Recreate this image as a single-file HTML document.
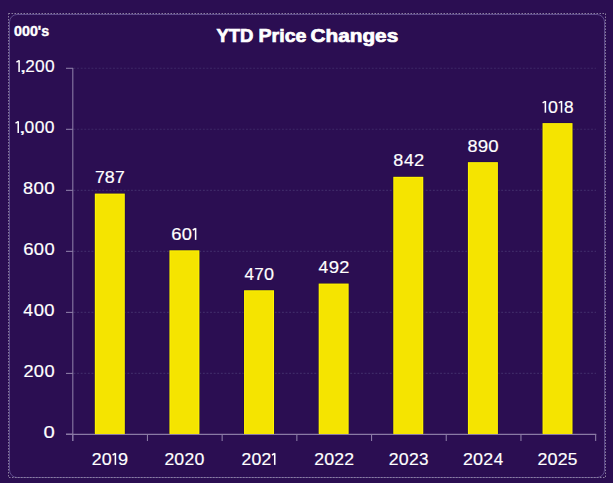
<!DOCTYPE html>
<html><head><meta charset="utf-8"><style>
html,body{margin:0;padding:0;background:#2b0e52;width:613px;height:483px;overflow:hidden}
svg{display:block}
text{font-family:"Liberation Sans",sans-serif;fill:#ffffff}
.lbl{font-size:17px;stroke:#fff;stroke-width:0.18px}
.title{font-size:18.4px;font-weight:bold;stroke:#fff;stroke-width:0.7px}
.unit{font-size:13.8px;font-weight:bold;stroke:#fff;stroke-width:0.4px}
</style></head><body>
<svg width="613" height="483" viewBox="0 0 613 483">
<rect x="0" y="0" width="613" height="483" fill="#2b0e52"/>
<rect x="9.5" y="14.5" width="595" height="463" rx="7.5" ry="7.5" fill="none" stroke="#5e4a8c" stroke-width="1"/>
<rect x="8.5" y="13.5" width="597" height="464" fill="none" stroke="#8a7e9e" stroke-width="1" stroke-dasharray="1.5 1.5"/>
<text x="216.43" y="42.10" class="title" textLength="37.10" lengthAdjust="spacingAndGlyphs">YTD</text><text x="258.54" y="42.10" class="title" textLength="47.98" lengthAdjust="spacingAndGlyphs">Price</text><text x="310.60" y="42.10" class="title" textLength="87.60" lengthAdjust="spacingAndGlyphs">Changes</text>
<text x="14.04" y="35.50" class="unit" textLength="35.15" lengthAdjust="spacingAndGlyphs">000's</text>
<line x1="73.5" y1="373.42" x2="596" y2="373.42" stroke="#3e2967" stroke-width="1.1" stroke-dasharray="1.9 1.694"/>
<line x1="73.5" y1="312.40" x2="596" y2="312.40" stroke="#3e2967" stroke-width="1.1" stroke-dasharray="1.9 1.694"/>
<line x1="73.5" y1="251.37" x2="596" y2="251.37" stroke="#3e2967" stroke-width="1.1" stroke-dasharray="1.9 1.694"/>
<line x1="73.5" y1="190.35" x2="596" y2="190.35" stroke="#3e2967" stroke-width="1.1" stroke-dasharray="1.9 1.694"/>
<line x1="73.5" y1="129.32" x2="596" y2="129.32" stroke="#3e2967" stroke-width="1.1" stroke-dasharray="1.9 1.694"/>
<line x1="73.5" y1="68.30" x2="596" y2="68.30" stroke="#3e2967" stroke-width="1.1" stroke-dasharray="1.9 1.694"/>
<line x1="66" y1="434.20" x2="73" y2="434.20" stroke="#8a7aa5" stroke-width="1.1"/>
<text x="43.51" y="438.20" class="lbl" textLength="11.29" lengthAdjust="spacingAndGlyphs">0</text>
<line x1="66" y1="373.42" x2="73" y2="373.42" stroke="#8a7aa5" stroke-width="1.1"/>
<text x="23.59" y="377.12" class="lbl" textLength="10.06" lengthAdjust="spacingAndGlyphs">2</text><text x="33.86" y="377.12" class="lbl" textLength="10.18" lengthAdjust="spacingAndGlyphs">0</text><text x="44.44" y="377.12" class="lbl" textLength="10.18" lengthAdjust="spacingAndGlyphs">0</text>
<line x1="66" y1="312.40" x2="73" y2="312.40" stroke="#8a7aa5" stroke-width="1.1"/>
<text x="23.30" y="316.10" class="lbl" textLength="9.75" lengthAdjust="spacingAndGlyphs">4</text><text x="33.66" y="316.10" class="lbl" textLength="10.28" lengthAdjust="spacingAndGlyphs">0</text><text x="44.34" y="316.10" class="lbl" textLength="10.28" lengthAdjust="spacingAndGlyphs">0</text>
<line x1="66" y1="251.37" x2="73" y2="251.37" stroke="#8a7aa5" stroke-width="1.1"/>
<text x="23.16" y="255.07" class="lbl" textLength="10.33" lengthAdjust="spacingAndGlyphs">6</text><text x="33.79" y="255.07" class="lbl" textLength="10.21" lengthAdjust="spacingAndGlyphs">0</text><text x="44.41" y="255.07" class="lbl" textLength="10.21" lengthAdjust="spacingAndGlyphs">0</text>
<line x1="66" y1="190.35" x2="73" y2="190.35" stroke="#8a7aa5" stroke-width="1.1"/>
<text x="22.91" y="194.05" class="lbl" textLength="10.15" lengthAdjust="spacingAndGlyphs">8</text><text x="33.41" y="194.05" class="lbl" textLength="10.45" lengthAdjust="spacingAndGlyphs">0</text><text x="44.28" y="194.05" class="lbl" textLength="10.45" lengthAdjust="spacingAndGlyphs">0</text>
<line x1="66" y1="129.32" x2="73" y2="129.32" stroke="#8a7aa5" stroke-width="1.1"/>
<path d="M18.22 133.02V121.32" stroke="#fff" stroke-width="1.55" fill="none"/><path d="M15.50 123.12L18.22 121.62" stroke="#fff" stroke-width="1.45" fill="none" stroke-linecap="butt"/><text x="18.73" y="133.02" class="lbl" textLength="7.16" lengthAdjust="spacingAndGlyphs">,</text><text x="24.64" y="133.02" class="lbl" textLength="9.73" lengthAdjust="spacingAndGlyphs">0</text><text x="34.75" y="133.02" class="lbl" textLength="9.73" lengthAdjust="spacingAndGlyphs">0</text><text x="44.86" y="133.02" class="lbl" textLength="9.73" lengthAdjust="spacingAndGlyphs">0</text>
<line x1="66" y1="68.30" x2="73" y2="68.30" stroke="#8a7aa5" stroke-width="1.1"/>
<path d="M19.10 72.00V60.30" stroke="#fff" stroke-width="1.55" fill="none"/><path d="M16.40 62.10L19.10 60.60" stroke="#fff" stroke-width="1.45" fill="none" stroke-linecap="butt"/><text x="19.60" y="72.00" class="lbl" textLength="7.10" lengthAdjust="spacingAndGlyphs">,</text><text x="25.28" y="72.00" class="lbl" textLength="9.53" lengthAdjust="spacingAndGlyphs">2</text><text x="35.00" y="72.00" class="lbl" textLength="9.65" lengthAdjust="spacingAndGlyphs">0</text><text x="45.03" y="72.00" class="lbl" textLength="9.65" lengthAdjust="spacingAndGlyphs">0</text>
<line x1="72.8" y1="68" x2="72.8" y2="441" stroke="#8a7aa5" stroke-width="1.1"/>
<line x1="66" y1="434.3" x2="596.2" y2="434.3" stroke="#8a7aa5" stroke-width="1.2"/>
<line x1="72.75" y1="434" x2="72.75" y2="441" stroke="#8a7aa5" stroke-width="1.1"/>
<line x1="147.45" y1="434" x2="147.45" y2="441" stroke="#8a7aa5" stroke-width="1.1"/>
<line x1="222.15" y1="434" x2="222.15" y2="441" stroke="#8a7aa5" stroke-width="1.1"/>
<line x1="296.85" y1="434" x2="296.85" y2="441" stroke="#8a7aa5" stroke-width="1.1"/>
<line x1="371.55" y1="434" x2="371.55" y2="441" stroke="#8a7aa5" stroke-width="1.1"/>
<line x1="446.25" y1="434" x2="446.25" y2="441" stroke="#8a7aa5" stroke-width="1.1"/>
<line x1="520.95" y1="434" x2="520.95" y2="441" stroke="#8a7aa5" stroke-width="1.1"/>
<line x1="595.65" y1="434" x2="595.65" y2="441" stroke="#8a7aa5" stroke-width="1.1"/>
<rect x="94.30" y="193.07" width="31" height="240.93" fill="#1f0846"/>
<rect x="94.80" y="193.57" width="30" height="240.43" fill="#fff500"/>
<rect x="95.80" y="194.57" width="28" height="239.43" fill="#f5e400"/>
<text x="94.90" y="183.17" class="lbl" textLength="9.79" lengthAdjust="spacingAndGlyphs">7</text><text x="104.87" y="183.17" class="lbl" textLength="9.97" lengthAdjust="spacingAndGlyphs">8</text><text x="115.00" y="183.17" class="lbl" textLength="9.79" lengthAdjust="spacingAndGlyphs">7</text>
<text x="91.81" y="464.90" class="lbl" textLength="9.83" lengthAdjust="spacingAndGlyphs">2</text><text x="101.84" y="464.90" class="lbl" textLength="9.95" lengthAdjust="spacingAndGlyphs">0</text><path d="M115.39 464.90V453.20" stroke="#fff" stroke-width="1.55" fill="none"/><path d="M112.58 455.00L115.39 453.50" stroke="#fff" stroke-width="1.45" fill="none" stroke-linecap="butt"/><text x="117.90" y="464.90" class="lbl" textLength="10.06" lengthAdjust="spacingAndGlyphs">9</text>
<rect x="168.92" y="249.80" width="31" height="184.20" fill="#1f0846"/>
<rect x="169.42" y="250.30" width="30" height="183.70" fill="#fff500"/>
<rect x="170.42" y="251.30" width="28" height="182.70" fill="#f5e400"/>
<text x="171.16" y="239.90" class="lbl" textLength="10.29" lengthAdjust="spacingAndGlyphs">6</text><text x="181.76" y="239.90" class="lbl" textLength="10.17" lengthAdjust="spacingAndGlyphs">0</text><path d="M195.62 239.90V228.20" stroke="#fff" stroke-width="1.55" fill="none"/><path d="M192.74 230.00L195.62 228.50" stroke="#fff" stroke-width="1.45" fill="none" stroke-linecap="butt"/>
<text x="164.42" y="464.90" class="lbl" textLength="9.76" lengthAdjust="spacingAndGlyphs">2</text><text x="174.38" y="464.90" class="lbl" textLength="9.88" lengthAdjust="spacingAndGlyphs">0</text><text x="184.46" y="464.90" class="lbl" textLength="9.76" lengthAdjust="spacingAndGlyphs">2</text><text x="194.42" y="464.90" class="lbl" textLength="9.88" lengthAdjust="spacingAndGlyphs">0</text>
<rect x="243.54" y="289.75" width="31" height="144.25" fill="#1f0846"/>
<rect x="244.04" y="290.25" width="30" height="143.75" fill="#fff500"/>
<rect x="245.04" y="291.25" width="28" height="142.75" fill="#f5e400"/>
<text x="244.41" y="279.85" class="lbl" textLength="9.49" lengthAdjust="spacingAndGlyphs">4</text><text x="254.32" y="279.85" class="lbl" textLength="9.54" lengthAdjust="spacingAndGlyphs">7</text><text x="264.10" y="279.85" class="lbl" textLength="10.01" lengthAdjust="spacingAndGlyphs">0</text>
<text x="241.62" y="464.90" class="lbl" textLength="9.74" lengthAdjust="spacingAndGlyphs">2</text><text x="251.56" y="464.90" class="lbl" textLength="9.86" lengthAdjust="spacingAndGlyphs">0</text><text x="261.62" y="464.90" class="lbl" textLength="9.74" lengthAdjust="spacingAndGlyphs">2</text><path d="M274.73 464.90V453.20" stroke="#fff" stroke-width="1.55" fill="none"/><path d="M271.95 455.00L274.73 453.50" stroke="#fff" stroke-width="1.45" fill="none" stroke-linecap="butt"/>
<rect x="318.16" y="283.04" width="31" height="150.96" fill="#1f0846"/>
<rect x="318.66" y="283.54" width="30" height="150.46" fill="#fff500"/>
<rect x="319.66" y="284.54" width="28" height="149.46" fill="#f5e400"/>
<text x="318.60" y="273.14" class="lbl" textLength="9.72" lengthAdjust="spacingAndGlyphs">4</text><text x="328.78" y="273.14" class="lbl" textLength="10.36" lengthAdjust="spacingAndGlyphs">9</text><text x="339.19" y="273.14" class="lbl" textLength="10.13" lengthAdjust="spacingAndGlyphs">2</text>
<text x="314.21" y="464.90" class="lbl" textLength="9.81" lengthAdjust="spacingAndGlyphs">2</text><text x="324.23" y="464.90" class="lbl" textLength="9.93" lengthAdjust="spacingAndGlyphs">0</text><text x="334.35" y="464.90" class="lbl" textLength="9.81" lengthAdjust="spacingAndGlyphs">2</text><text x="344.18" y="464.90" class="lbl" textLength="9.81" lengthAdjust="spacingAndGlyphs">2</text>
<rect x="392.78" y="176.29" width="31" height="257.71" fill="#1f0846"/>
<rect x="393.28" y="176.79" width="30" height="257.21" fill="#fff500"/>
<rect x="394.28" y="177.79" width="28" height="256.21" fill="#f5e400"/>
<text x="393.22" y="166.39" class="lbl" textLength="10.03" lengthAdjust="spacingAndGlyphs">8</text><text x="403.91" y="166.39" class="lbl" textLength="9.79" lengthAdjust="spacingAndGlyphs">4</text><text x="414.12" y="166.39" class="lbl" textLength="10.20" lengthAdjust="spacingAndGlyphs">2</text>
<text x="388.82" y="464.90" class="lbl" textLength="9.79" lengthAdjust="spacingAndGlyphs">2</text><text x="398.80" y="464.90" class="lbl" textLength="9.90" lengthAdjust="spacingAndGlyphs">0</text><text x="408.90" y="464.90" class="lbl" textLength="9.79" lengthAdjust="spacingAndGlyphs">2</text><text x="418.93" y="464.90" class="lbl" textLength="9.52" lengthAdjust="spacingAndGlyphs">3</text>
<rect x="467.40" y="161.65" width="31" height="272.35" fill="#1f0846"/>
<rect x="467.90" y="162.15" width="30" height="271.85" fill="#fff500"/>
<rect x="468.90" y="163.15" width="28" height="270.85" fill="#f5e400"/>
<text x="467.41" y="151.75" class="lbl" textLength="10.06" lengthAdjust="spacingAndGlyphs">8</text><text x="477.67" y="151.75" class="lbl" textLength="10.46" lengthAdjust="spacingAndGlyphs">9</text><text x="488.37" y="151.75" class="lbl" textLength="10.35" lengthAdjust="spacingAndGlyphs">0</text>
<text x="463.01" y="464.90" class="lbl" textLength="9.89" lengthAdjust="spacingAndGlyphs">2</text><text x="473.10" y="464.90" class="lbl" textLength="10.01" lengthAdjust="spacingAndGlyphs">0</text><text x="483.31" y="464.90" class="lbl" textLength="9.89" lengthAdjust="spacingAndGlyphs">2</text><text x="493.71" y="464.90" class="lbl" textLength="9.49" lengthAdjust="spacingAndGlyphs">4</text>
<rect x="542.02" y="122.61" width="31" height="311.39" fill="#1f0846"/>
<rect x="542.52" y="123.11" width="30" height="310.89" fill="#fff500"/>
<rect x="543.52" y="124.11" width="28" height="309.89" fill="#f5e400"/>
<path d="M545.39 112.71V101.01" stroke="#fff" stroke-width="1.55" fill="none"/><path d="M542.60 102.81L545.39 101.31" stroke="#fff" stroke-width="1.45" fill="none" stroke-linecap="butt"/><text x="548.04" y="112.71" class="lbl" textLength="9.91" lengthAdjust="spacingAndGlyphs">0</text><path d="M561.53 112.71V101.01" stroke="#fff" stroke-width="1.55" fill="none"/><path d="M558.74 102.81L561.53 101.31" stroke="#fff" stroke-width="1.45" fill="none" stroke-linecap="butt"/><text x="564.13" y="112.71" class="lbl" textLength="9.62" lengthAdjust="spacingAndGlyphs">8</text>
<text x="537.41" y="464.90" class="lbl" textLength="9.89" lengthAdjust="spacingAndGlyphs">2</text><text x="547.50" y="464.90" class="lbl" textLength="10.01" lengthAdjust="spacingAndGlyphs">0</text><text x="557.71" y="464.90" class="lbl" textLength="9.89" lengthAdjust="spacingAndGlyphs">2</text><text x="567.81" y="464.90" class="lbl" textLength="9.62" lengthAdjust="spacingAndGlyphs">5</text>
</svg>
</body></html>
